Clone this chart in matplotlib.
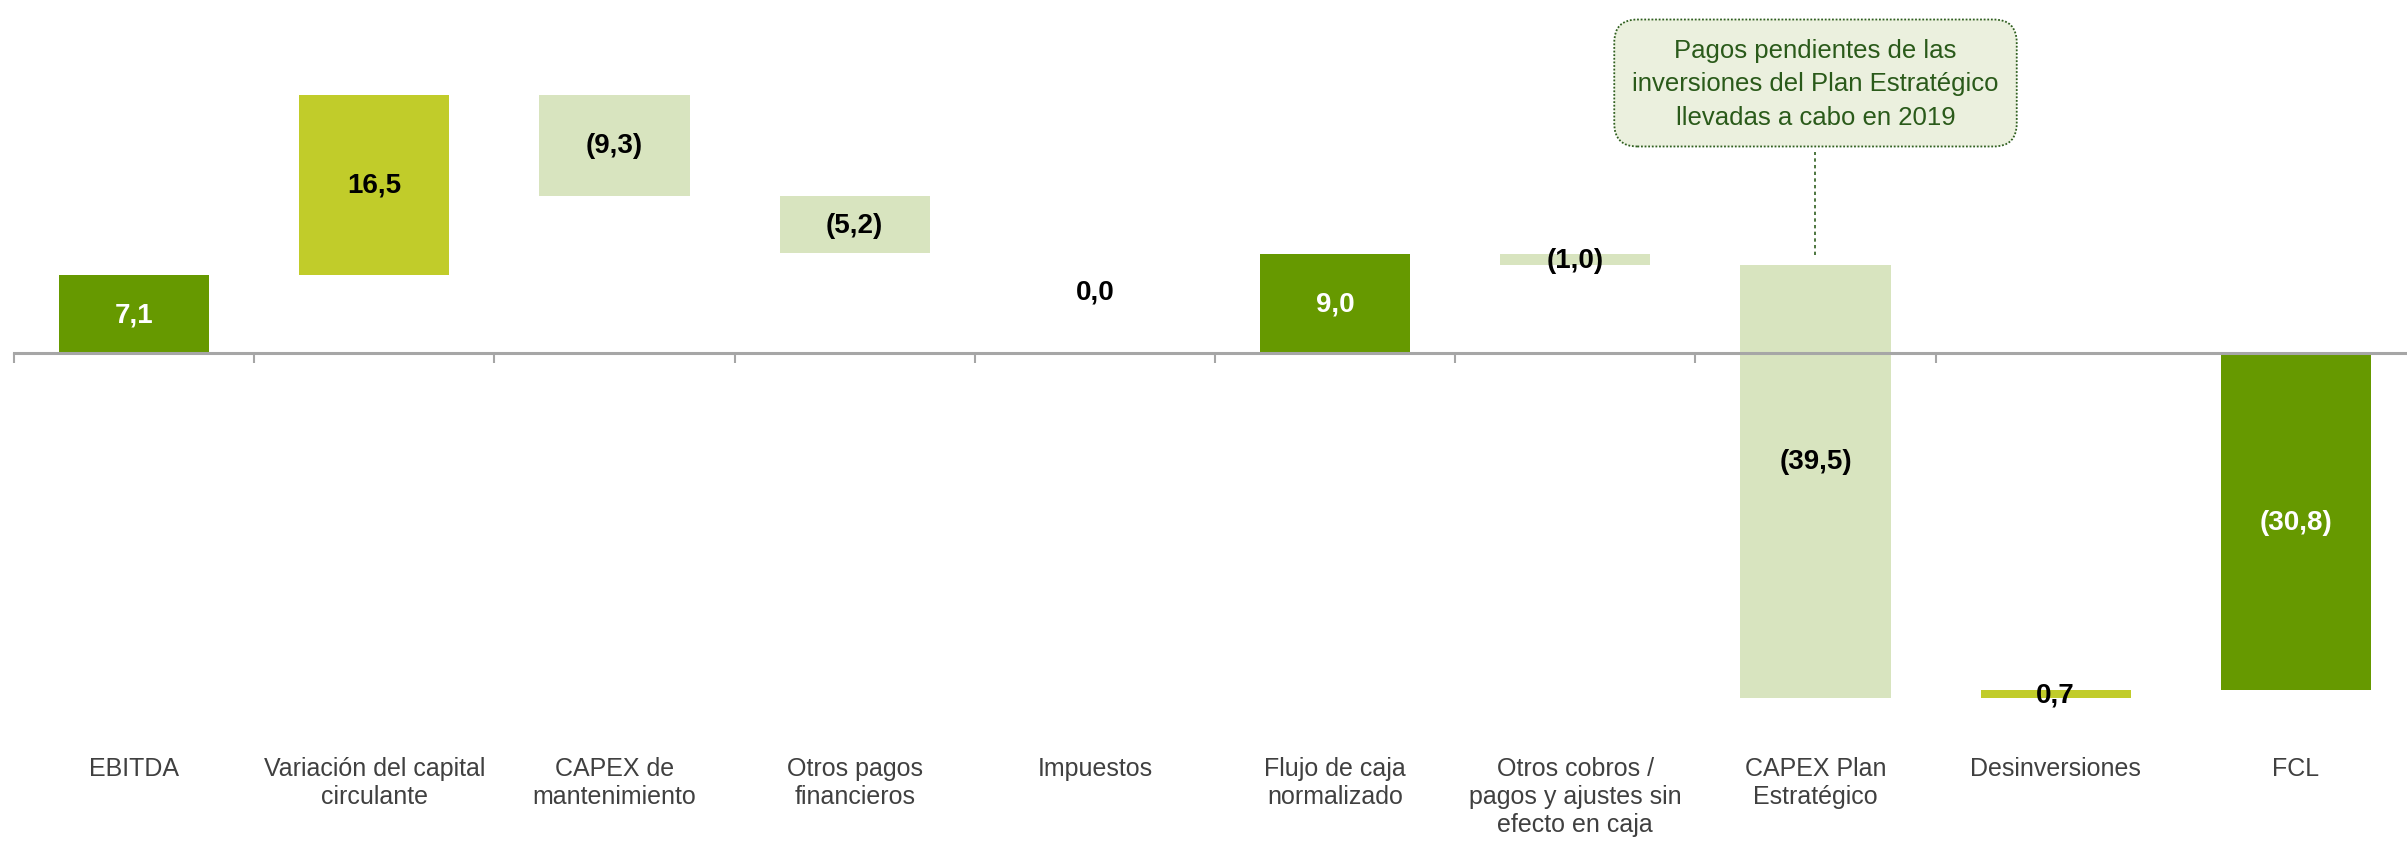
import matplotlib
matplotlib.use("Agg")
import matplotlib.pyplot as plt
from matplotlib import font_manager
import numpy as np

categories = [
    "EBITDA",
    "Variación del capital\ncirculante",
    "CAPEX de\nmantenimiento",
    "Otros pagos\nfinancieros",
    "Impuestos",
    "Flujo de caja\nnormalizado",
    "Otros cobros /\npagos y ajustes sin\nefecto en caja",
    "CAPEX Plan\nEstratégico",
    "Desinversiones",
    "FCL",
]
values = [7.1, 16.5, -9.3, -5.2, 0.0, 9.0, -1.0, -39.5, 0.7, -30.8]
is_total = [True, False, False, False, False, True, False, False, False, True]
value_labels = ["7,1", "16,5", "(9,3)", "(5,2)", "0,0", "9,0", "(1,0)", "(39,5)", "0,7", "(30,8)"]
callout_text = "Pagos pendientes de las\ninversiones del Plan Estratégico\nllevadas a cabo en 2019"

DARK = "#669900"
LIME = "#c1cc2a"
LIGHT = "#d8e4bf"

names = {f.name for f in font_manager.fontManager.ttflist}
narrow = "Liberation Sans Narrow" if "Liberation Sans Narrow" in names else "Liberation Sans"
plt.rcParams["font.family"] = [narrow, "DejaVu Sans"]

fig = plt.figure(figsize=(24.07, 8.45), dpi=100)
ax = fig.add_axes([14 / 2407, 0, 1 - 14 / 2407, 1])
px_per_unit = 10.95
ax.set_ylim(-(845 - 354) / px_per_unit, 354 / px_per_unit)
ax.set_xlim(-0.5, 9.5 - 9 / 240.2)

x = np.arange(len(categories))
running = 0.0
bottoms, heights, colors = [], [], []
for v, tot in zip(values, is_total):
    if tot:
        bottoms.append(0.0)
        heights.append(v)
        colors.append(DARK)
        running = v
    else:
        bottoms.append(running)
        heights.append(v)
        colors.append(LIME if v > 0 else LIGHT)
        running += v

ax.bar(x, heights, bottom=bottoms, width=0.625, color=colors, zorder=2)

# value labels (pixel shifts for the two that sit off-centre)
offsets = {4: -38, 7: 21}
for i, (b, h, lab) in enumerate(zip(bottoms, heights, value_labels)):
    yc = b + h / 2
    dy = offsets.get(i, 0)
    col = "white" if is_total[i] else "black"
    ax.annotate(lab, (i, yc), xytext=(0, dy * 0.72), textcoords="offset points",
                ha="center", va="center", fontsize=20, fontweight="bold", color=col, zorder=4)

# category labels
for i, c in enumerate(categories):
    ax.text(i, -36.8, c, ha="center", va="top", fontsize=18, color="#404040",
            linespacing=1.2)

# axis line with ticks at boundaries
for s in ["top", "right", "left"]:
    ax.spines[s].set_visible(False)
ax.spines["bottom"].set_position(("data", 0))
ax.spines["bottom"].set_color("#a6a6a6")
ax.spines["bottom"].set_linewidth(2.2)
ax.spines["bottom"].set_zorder(3)
ax.set_xticks(np.arange(len(categories) - 1) - 0.5)
ax.tick_params(axis="x", direction="out", length=7, width=1.5, color="#a6a6a6", labelbottom=False)
ax.set_yticks([])

# callout
ax.plot([7, 7], [8.95, (354 - 153) / px_per_unit], color="#2f5f1f", linestyle=(0, (2, 2)),
        linewidth=1.2, zorder=1)
ax.text(7, (354 - 84) / px_per_unit, callout_text, ha="center", va="center", fontsize=18.5,
        color="#2a5a1a", linespacing=1.5, zorder=5,
        bbox=dict(boxstyle="round,pad=0.7,rounding_size=0.9", facecolor="#ebf0de",
                  edgecolor="#2f5f1f", linestyle=(0, (1, 1)), linewidth=1.3))

fig.savefig("out.png", dpi=100)
